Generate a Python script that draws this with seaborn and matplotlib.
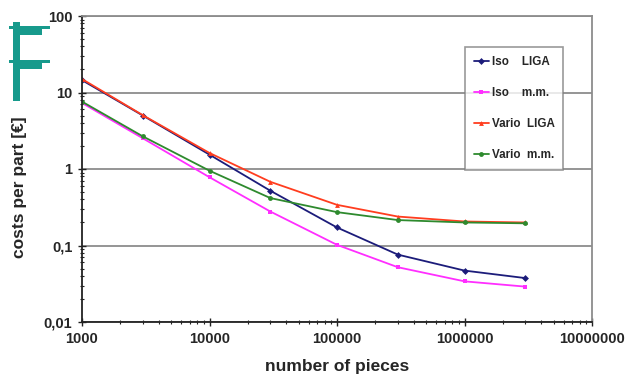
import numpy as np
import pandas as pd
import seaborn as sns
import matplotlib
matplotlib.use("Agg")
import matplotlib.pyplot as plt
from matplotlib.patches import Rectangle
from matplotlib.ticker import NullFormatter, LogLocator

pieces = [1000, 3000, 10000, 30000, 100000, 300000, 1000000, 3000000]
iso_liga = [14.5, 5.0, 1.54, 0.52, 0.172, 0.076, 0.047, 0.0375]
iso_mm = [7.3, 2.52, 0.78, 0.278, 0.102, 0.052, 0.034, 0.029]
vario_liga = [15.0, 5.05, 1.62, 0.68, 0.34, 0.239, 0.206, 0.2]
vario_mm = [7.6, 2.67, 0.95, 0.417, 0.273, 0.215, 0.2, 0.195]

series_names = ["Iso    LIGA", "Iso    m.m.", "Vario  LIGA", "Vario  m.m."]
series_colors = ["#1c1c7a", "#ff2eff", "#ff3d1f", "#2e8a2e"]
series_markers = ["D", "s", "^", "o"]

ytick_vals = [0.01, 0.1, 1, 10, 100]
ytick_labels = ["0,01", "0,1", "1", "10", "100"]
xtick_vals = [1e3, 1e4, 1e5, 1e6, 1e7]
xtick_labels = ["1000", "10000", "100000", "1000000", "10000000"]

df = pd.DataFrame({
    "pieces": pieces * 4,
    "cost": iso_liga + iso_mm + vario_liga + vario_mm,
    "series": np.repeat(series_names, len(pieces)),
})

sns.set_style("white")
plt.rcParams["font.family"] = ["Liberation Sans", "DejaVu Sans"]

W, H = 632, 381
fig = plt.figure(figsize=(W / 100, H / 100), dpi=100)
ax = fig.add_axes([82 / W, 1 - 322 / H, 510 / W, 306 / H])

sns.lineplot(data=df, x="pieces", y="cost", hue="series", style="series",
             palette=series_colors, markers=series_markers, dashes=False,
             markersize=3.5, markeredgewidth=0, linewidth=1.3, ax=ax)

ax.set_xscale("log")
ax.set_yscale("log")
ax.set_xlim(1e3, 1e7)
ax.set_ylim(0.01, 100)

ax.set_yticks(ytick_vals)
ax.set_yticklabels(ytick_labels, fontweight="bold", fontsize=10.5)
ax.set_xticks(xtick_vals)
ax.set_xticklabels(xtick_labels, fontweight="bold", fontsize=10.5)
ax.xaxis.set_minor_locator(LogLocator(base=10, subs=np.arange(2, 10)))
ax.yaxis.set_minor_locator(LogLocator(base=10, subs=np.arange(2, 10)))
ax.xaxis.set_minor_formatter(NullFormatter())
ax.yaxis.set_minor_formatter(NullFormatter())
ax.tick_params(axis="both", which="both", bottom=True, left=True, top=False, right=False)
ax.tick_params(axis="both", which="major", direction="inout", length=6, width=1, color="#222222", pad=4)
ax.tick_params(axis="both", which="minor", direction="inout", length=3.5, width=0.8, color="#222222")

ax.yaxis.grid(True, which="major", color="#8c8c8c", linewidth=1.3)
ax.set_axisbelow(True)

for side in ["left", "bottom"]:
    ax.spines[side].set_color("#222222")
    ax.spines[side].set_linewidth(1.3)
for side in ["top", "right"]:
    ax.spines[side].set_color("#8c8c8c")
    ax.spines[side].set_linewidth(1.3)

ax.set_xlabel("number of pieces", fontweight="bold", fontsize=12.5)
ax.set_ylabel("costs per part [€]", fontweight="bold", fontsize=12.5)
ax.xaxis.set_label_coords(0.5, -(359 - 322) / 306)
ax.yaxis.set_label_coords((27 - 82) / 510, (322 - 187) / 306)

leg = ax.legend(loc="upper left", bbox_to_anchor=((465 - 82) / 510, 1 - (47 - 16) / 306),
                frameon=True, fancybox=False, prop={"weight": "bold", "size": 8.4},
                labelspacing=1.65, handlelength=1.3, handletextpad=0.25,
                borderpad=0.75, borderaxespad=0)
leg.get_frame().set_edgecolor("#808080")
leg.get_frame().set_linewidth(1.2)

# teal logo in top left corner
teal = "#179a8c"
def px_rect(x0, y0, x1, y1):
    fig.add_artist(Rectangle((x0 / W, 1 - y1 / H), (x1 - x0) / W, (y1 - y0) / H,
                             transform=fig.transFigure, color=teal, lw=0))

px_rect(13, 22, 20, 101)
px_rect(9, 26, 50, 28.5)
px_rect(20, 28.5, 42, 35)
px_rect(9, 60, 50, 62.5)
px_rect(20, 62.5, 42, 69)

fig.savefig("out.png", dpi=100)
